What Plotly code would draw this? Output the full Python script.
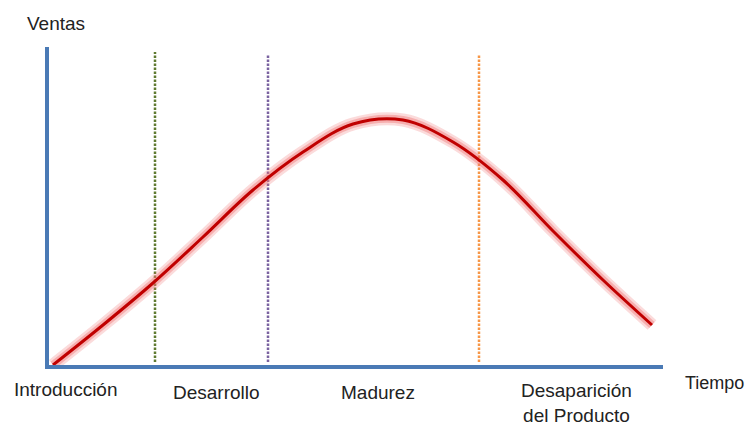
import plotly.graph_objects as go

# Data (time vs sales)
tiempo = [4, 54, 104, 154, 204, 254, 304, 354, 404, 454, 504, 554, 603]
ventas = [0, 40, 82, 128, 175, 213, 241, 245, 223, 185, 134, 85, 40]

fases = ["Introducción", "Desarrollo", "Madurez", "Desaparición<br>del Producto"]
limites = [106, 219, 430]
colores_limites = ["#5F7A30", "#7A62A0", "#F79646"]

OFF = 8  # page body margin
W, H = 755 - OFF, 425 - OFF
L, T = 49 - OFF, 47 - OFF
PW, PH = 614, 318

fig = go.Figure()
# glow
fig.add_trace(go.Scatter(x=tiempo, y=ventas, mode="lines",
                         line=dict(color="rgba(240,110,110,0.25)", width=13, shape="spline"),
                         hoverinfo="skip", showlegend=False))
fig.add_trace(go.Scatter(x=tiempo, y=ventas, mode="lines",
                         line=dict(color="rgba(240,110,110,0.4)", width=8, shape="spline"),
                         hoverinfo="skip", showlegend=False))
fig.add_trace(go.Scatter(x=tiempo, y=ventas, mode="lines",
                         line=dict(color="#C00000", width=3, shape="spline"),
                         showlegend=False))

tops = [313, 310, 310]
for xv, c, tp in zip(limites, colores_limites, tops):
    fig.add_shape(type="line", x0=xv, x1=xv, y0=3, y1=tp, xref="x", yref="y",
                  line=dict(color=c, width=2.5, dash="2.5px,1.5px"), layer="below")

font = dict(family="Liberation Sans, Arial, sans-serif", size=19, color="#222222")

def ann(text, px, py, size=19):
    f = dict(font)
    f["size"] = size
    fig.add_annotation(x=(px - 49) / PW, y=(365 - py) / PH, xref="paper", yref="paper",
                       text=text, showarrow=False, font=f, align="center",
                       xanchor="center", yanchor="middle")

ann("Ventas", 56, 23)
label_px = [(66, 389), (216, 392), (378, 392), (576, 403)]
for f, (px, py) in zip(fases, label_px):
    ann(f, px, py)
ann("Tiempo", 714, 383, size=18)

axis_color = "#4A7AB5"
fig.update_layout(
    width=W, height=H,
    margin=dict(l=L, r=W - L - PW, t=T, b=H - T - PH),
    paper_bgcolor="white", plot_bgcolor="white",
    xaxis=dict(range=[0, PW], showgrid=False, zeroline=False, showticklabels=False,
               ticks="", showline=True, linecolor=axis_color, linewidth=4),
    yaxis=dict(range=[0, PH], showgrid=False, zeroline=False, showticklabels=False,
               ticks="", showline=True, linecolor=axis_color, linewidth=4),
)

fig.write_html("out.html")
